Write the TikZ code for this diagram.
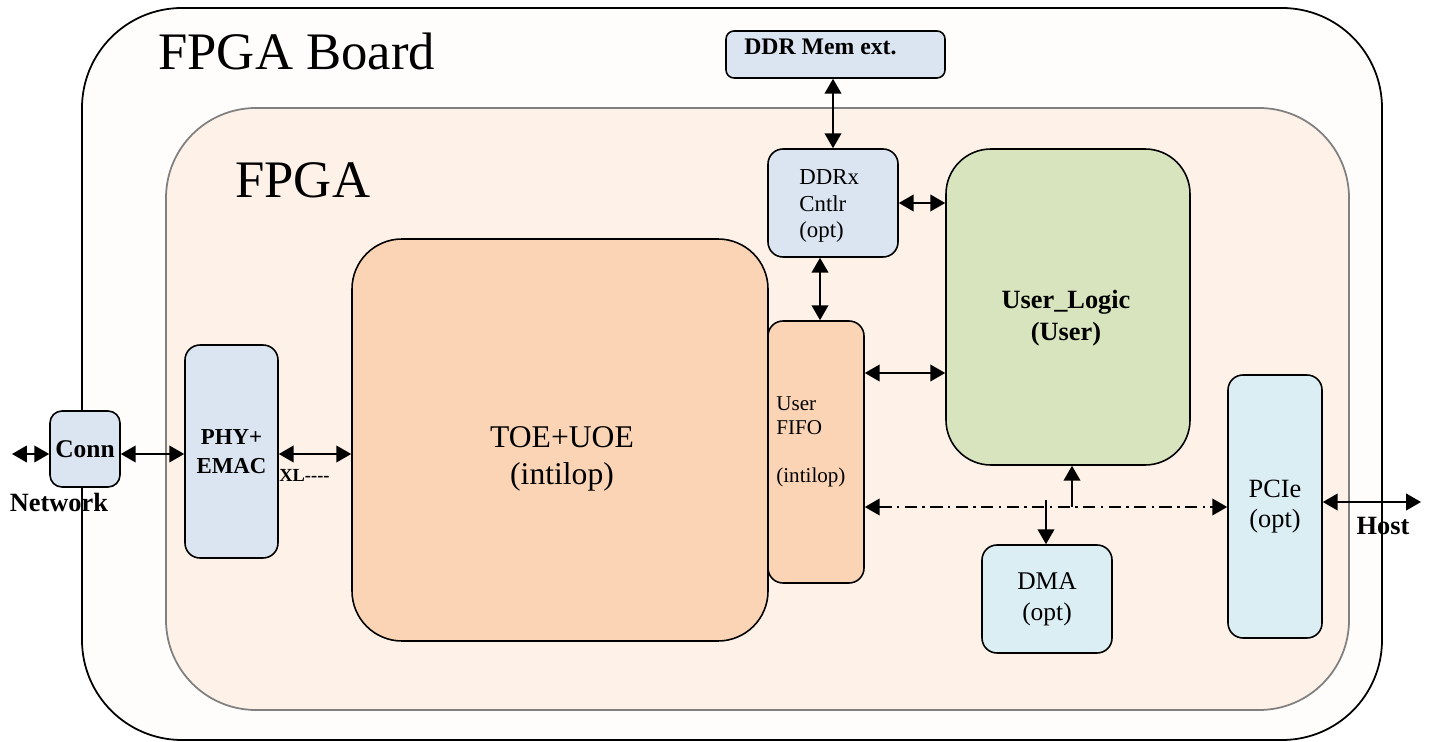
\documentclass[tikz,border=0pt]{standalone}
\usepackage{fontspec}
\setmainfont{Liberation Serif}
\usetikzlibrary{arrows.meta}

\definecolor{boardfill}{HTML}{FFFDFB}
\definecolor{fpgafill}{HTML}{FDF1E8}
\definecolor{fpgaline}{HTML}{808080}
\definecolor{memfill}{HTML}{DBE4F1}
\definecolor{toefill}{HTML}{FAD4B4}
\definecolor{userfill}{HTML}{D7E4BD}
\definecolor{hostfill}{HTML}{DBEEF4}

\begin{document}
\begin{tikzpicture}[x=0.02cm, y=-0.02cm,
    wh/.style 2 args={minimum width=#1*0.02cm, minimum height=#2*0.02cm},
    fs/.style 2 args={font=\fontsize{#1}{#2}\selectfont},
    fsb/.style 2 args={font=\fontsize{#1}{#2}\selectfont\bfseries},
    blk/.style={draw, line width=0.9pt, rounded corners=0.3cm, inner sep=0pt},
    tip/.style={line width=1.1pt, -{Triangle[length=8.5pt,width=9.5pt]}},
    lnk/.style={line width=1.1pt, {Triangle[length=8.5pt,width=9.5pt]}-{Triangle[length=8.5pt,width=9.5pt]}}]
  \useasboundingbox (0,0) rectangle (1429,742);
  % board and chip
  \node[draw, line width=1pt, fill=boardfill, rounded corners=2cm, wh={1300}{732}] (board) at (732,374) {};
  \node[draw=fpgaline, line width=1pt, fill=fpgafill, rounded corners=1.8cm, wh={1183}{602}] (fpga) at (757.5,409) {};
  \node[anchor=base west, inner sep=0pt, fs={30}{36}] (boardtxt) at (158,70) {FPGA Board};
  \node[anchor=base west, inner sep=0pt, fs={30}{36}] (fpgatxt) at (235,198) {FPGA};
  %% memory side
  \node[blk, fill=memfill, rounded corners=0.16cm, wh={219}{47}] (ddrmem) at (835.5,54.5) {};
  \node[anchor=base west, inner sep=0pt, fsb={13.5}{16}] (ddrmemtxt) at (744,55) {DDR Mem ext.};
  \node[blk, fill=memfill, wh={130}{108}] (ddrx) at (833,203) {};
  \node[anchor=west, align=left, inner sep=0pt, fs={13}{15.3}] (ddrxtxt) at (799,206) {DDRx\\Cntlr\\(opt)};
  %% user side
  \node[blk, fill=userfill, rounded corners=0.9cm, wh={244}{316}] (user) at (1068,307) {};
  \node[align=center, inner sep=0pt, fsb={15}{18}] (usertxt) at (1066,318) {User\_Logic\\(User)};
  \node[blk, fill=toefill, rounded corners=1cm, wh={416}{402}] (toe) at (560,440) {};
  \node[align=center, inner sep=0pt, fs={18}{21.5}] (toetxt) at (562,459) {TOE+UOE\\(intilop)};
  \node[blk, fill=toefill, wh={96}{262}] (fifo) at (816,452) {};
  \node[anchor=west, align=left, inner sep=0pt, fs={12}{13.6}] (fifotxt) at (776,442) {User\\FIFO\\{}\\(intilop)};
  %% network side
  \node[blk, fill=memfill, wh={93}{213}, align=center, fsb={13}{16.4}] (phy) at (231.5,451.5) {PHY+\\EMAC};
  \node[blk, fill=memfill, rounded corners=0.24cm, wh={70}{76}, fsb={14.5}{17}] (conn) at (85,449) {Conn};
  \node[anchor=base, inner sep=0pt, fsb={15}{18}] (nettxt) at (59,512) {Network};
  \node[anchor=base west, inner sep=0pt, fsb={10.5}{12}] (xltxt) at (279,482) {XL-{}-{}-{}-};
  %% host side
  \node[blk, fill=hostfill, wh={94}{263}, align=center, fs={15}{17}] (pcie) at (1275,506.5) {PCIe\\(opt)};
  \node[blk, fill=hostfill, wh={130}{108}, align=center, fs={14.5}{17.5}] (dma) at (1047,599) {DMA\\(opt)};
  \node[anchor=base, inner sep=0pt, fsb={15}{18}] (hosttxt) at (1383,535) {Host};
  % links
  \coordinate (netend) at (12,454);
  \coordinate (hostend) at (1421,502);
  \coordinate (fifoin) at (820,0);
  \coordinate (lvl) at (0,373);
  \coordinate (bus) at (1072,507);
  \coordinate (dmain) at (1046,500);
  \draw[lnk] (netend) -- (netend -| conn.west);
  \draw[lnk] (netend -| conn.east) -- (netend -| phy.west);
  \draw[lnk] (netend -| phy.east) -- (netend -| toe.west);
  \draw[lnk] (ddrx.north) -- (ddrx.north |- ddrmem.south);
  \draw[lnk] (ddrx.east) -- (ddrx.east -| user.west);
  \draw[lnk] (ddrx.south -| fifoin) -- (fifo.north -| fifoin);
  \draw[lnk] (fifo.east |- lvl) -- (user.west |- lvl);
  \draw[lnk, dash pattern=on 7pt off 3pt on 1.5pt off 3pt] (fifo.east |- bus) -- (pcie.west |- bus);
  \draw[tip] (bus) -- (bus |- user.south);
  \draw[tip] (dmain) -- (dmain |- dma.north);
  \draw[lnk] (pcie.east |- hostend) -- (hostend);
\end{tikzpicture}
\end{document}
